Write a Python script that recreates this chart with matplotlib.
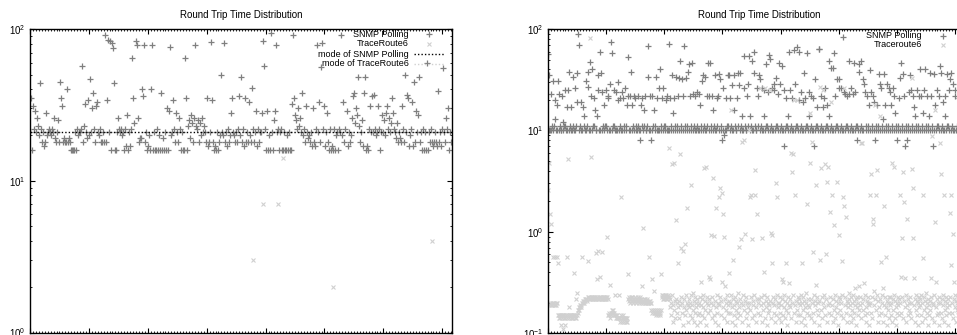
import numpy as np
import matplotlib
matplotlib.use('Agg')
import matplotlib.pyplot as plt
from matplotlib.ticker import MultipleLocator, LogLocator, NullFormatter

plt.rcParams['font.family'] = ['Liberation Sans', 'DejaVu Sans']
plt.rcParams['mathtext.default'] = 'regular'

# ---- data (RTT in ms), samples evenly spaced over the plotted time window ----
left_span_h = 7.165
right_span_h = 7.26

left_snmp = [
    21,35,16,31,22,29,21,26,23,20, 44,22,18,21,17,18,28,20,21,22,
    21,20,22,21,26,19,18,21,25,18, 45,35,31,18,19,18,18,40,18,19,
    18,16,16,16,16,21,16,22,20,21, 21,22,57,18,23,32,21,19,34,20,
    47,21,30,38,22,18,31,33,21,20, 22,18,18,21,18,91,18,34,85,21,
    83,16,81,75,44,16,16,21,26,22, 21,22,20,21,16,22,17,27,16,21,
    17,22,64,35,24,83,79,26,18,19, 19,40,36,79,18,21,16,17,20,16,
    40,78,16,21,16,16,22,16,20,16, 38,16,19,16,21,16,30,16,29,76,
    20,21,34,22,18,28,21,18,26,22, 16,21,16,16,64,35,16,23,25,19,
    27,24,18,26,79,23,22,25,18,24, 20,26,21,23,21,18,35,17,18,21,
    82,34,18,16,17,16,21,16,18,20, 50,21,20,81,18,21,17,22,18,20,
    28,35,21,20,18,21,18,22,36,20, 48,18,22,17,35,18,21,18,33,20,
    18,41,22,18,21,29,17,22,18,21, 21,28,83,57,22,16,29,16,20,16,
    94,21,16,25,29,79,21,22,16,21, 22,16,16,21,16,16,20,16,21,16,
    16,32,91,35,27,25,22,30,23,26, 21,38,20,22,18,31,21,19,20,18,
    21,17,30,18,17,22,79,21,33,18, 56,81,22,31,17,21,28,18,16,22,
    16,17,16,22,16,20,21,16,22,21, 91,20,33,18,22,29,17,21,18,20,
    26,36,38,24,30,27,48,23,18,21, 25,17,38,48,16,17,16,22,31,21,
    36,21,37,22,20,21,31,22,16,21, 27,21,25,20,28,31,22,26,21,24,
    35,28,22,21,19,24,18,21,19,18, 31,22,18,50,21,37,35,17,20,22,
    33,17,45,18,29,21,27,48,18,21, 16,22,16,21,16,60,16,21,18,22,
    18,17,18,21,18,17,39,18,21,17, 22,55,21,18,26,22,30,16,21,18,
]

left_trace = [
    0.19,0.2,0.21,0.2,0.18,0.2,0.22,0.19,0.2,0.21,
    0.2,0.19,0.2,0.18,0.21,0.2,0.2,0.19,0.22,0.2,
    0.21,0.2,0.19,0.2,0.2,0.18,0.21,0.2,0.19,0.2,
    0.2,0.22,0.2,0.19,0.21,0.2,0.18,0.2,0.2,0.19,
    0.21,0.2,0.2,0.19,0.2,3.0,0.21,7.0,0.2,0.19,
    7.0,14.1,0.2,0.21,0.19,0.2,0.2,0.18,0.21,0.2,
    0.19,2.0,0.2,0.21,0.2,0.19,0.2,0.22,0.2,0.19,
    0.21,0.2,0.2,0.18,0.2,0.21,0.19,0.2,0.2,0.21,
    0.2,4.0,0.19,0.2,0.21,
]

left_snmp_mode = 21
left_trace_mode = 0.2

right_snmp = [
    57,10,35,10,10,23,11,31,10,11,20,13,10,10,18,  31,10,23,11,10,10,22,12,10,11,25,11,10,10,17,
    25,10,38,11,10,17,10,34,11,10,26,10,11,19,37,  89,10,69,11,10,19,10,17,14,11,10,10,31,11,38,
    27,10,47,10,22,10,40,11,21,11,16,10,10,14,25,  35,10,59,10,37,10,24,11,18,10,11,25,11,10,22,
    21,10,29,10,74,10,58,11,25,11,10,24,10,10,20,  30,10,21,11,10,24,10,21,11,10,26,10,11,18,22,
    53,10,22,10,38,10,18,11,22,10,21,11,10,10,11,  22,10,8,10,18,11,21,10,11,16,22,10,10,11,34,
    68,10,22,10,8,10,22,11,16,10,11,34,21,10,10,   26,10,40,11,10,21,10,26,11,10,11,20,22,10,10,
    71,10,21,11,10,35,15,10,21,11,10,34,10,11,22,  33,10,48,11,10,32,10,22,68,11,10,33,10,11,38,
    45,10,22,11,10,46,10,23,11,10,22,10,24,11,10,  23,10,18,11,10,31,10,35,11,10,34,10,11,22,46,
    22,10,46,11,10,22,10,16,11,10,35,10,11,21,22,  36,10,32,11,10,8,10,26,9,10,21,10,11,35,11,
    35,10,21,11,10,28,10,35,16,11,10,10,21,11,37,  28,10,37,11,10,14,10,54,26,11,10,10,22,11,29,
    54,10,14,11,10,48,10,60,37,11,10,10,26,11,22,  35,10,32,11,10,26,10,25,14,10,11,45,11,10,24,
    55,10,51,11,10,26,10,29,25,10,11,33,11,10,23,  46,10,29,11,10,43,10,25,7,10,11,21,11,10,14,
    60,10,25,11,10,21,10,62,29,10,11,67,11,10,20,  60,10,24,11,10,19,10,37,21,10,11,58,11,10,14,
    24,10,22,11,10,21,10,7,32,10,11,17,11,10,64,   63,10,22,11,10,17,10,21,26,10,11,18,11,10,14,
    48,10,41,11,10,41,10,58,22,10,11,32,11,10,26,  32,10,26,11,10,83,10,24,23,10,11,22,11,10,23,
    48,10,26,11,10,23,10,46,24,10,11,8,11,10,38,   45,10,48,11,10,32,10,29,24,10,11,22,11,10,18,
    39,10,24,11,10,22,10,19,8,10,11,18,11,10,36,   29,10,26,11,10,13,10,36,18,10,11,29,11,10,26,
    24,10,18,11,10,26,10,22,15,10,11,8,11,10,21,   33,10,46,11,10,36,10,22,7,10,11,8,11,10,24,
    35,10,25,11,10,22,10,17,14,10,11,25,11,10,22,  40,10,22,11,10,15,10,25,40,10,11,22,11,10,14,
    37,10,22,11,10,7,10,36,18,10,11,25,11,10,22,   43,10,37,11,10,19,10,22,14,10,11,36,11,10,25,
    32,10,37,11,10,29,10,22,25,10,10,11,11,10,21,  30,10,22,11,10,18,10,24,11,10,11,28,11,10,22,
]

right_trace = [
    2.6,0.19,4.8,1.5,0.2,0.19,1.2,0.2,0.19,0.56,0.2,0.19,0.2,0.56,0.19,0.2,0.19,0.56,0.2,0.49,
    0.15,0.14,0.15,0.15,0.14,0.15,0.12,0.15,0.14,0.11,0.15,0.14,0.15,0.12,0.14,0.15,0.15,0.56,0.14,5.2,
    0.15,0.14,0.18,0.15,0.15,0.14,0.15,0.14,0.15,0.15,0.14,0.39,0.15,0.14,0.15,0.22,0.14,0.15,0.25,0.16,
    0.17,0.18,0.17,0.18,0.19,0.18,0.19,0.2,0.56,0.2,0.21,0.2,0.21,0.22,0.21,0.22,0.22,0.21,0.22,0.23,
    0.52,0.22,0.23,82,0.22,5.5,0.23,0.22,0.23,0.22,0.23,0.22,0.23,0.22,0.23,0.22,0.62,0.23,0.34,0.22,
    0.65,0.23,0.22,0.36,0.23,0.22,0.23,0.22,0.63,0.23,0.22,0.23,0.22,0.23,0.22,0.23,0.22,0.23,0.88,0.22,
    0.15,0.16,0.15,0.3,0.14,0.15,0.16,0.17,0.16,0.17,0.16,0.15,0.16,0.15,0.24,0.14,0.15,0.14,0.15,0.14,
    0.14,0.24,0.14,0.13,0.14,0.15,2.2,0.14,0.13,0.14,0.15,0.14,0.13,0.14,0.14,0.13,0.14,0.13,0.14,0.38,
    0.22,0.23,0.21,0.22,0.2,0.23,0.22,0.21,0.23,0.22,0.2,0.21,0.22,0.23,0.21,0.22,0.2,0.22,0.21,0.23,
    0.21,0.22,0.2,0.23,0.21,0.22,0.2,0.29,0.21,0.2,1.1,0.22,0.21,0.2,0.22,0.21,0.2,0.22,0.21,0.2,
    0.2,0.21,0.56,0.2,0.21,0.2,0.17,0.34,0.16,0.17,0.26,0.16,0.17,0.16,0.15,0.16,0.17,0.16,0.15,0.16,
    0.16,0.17,0.15,0.16,0.17,0.38,0.24,0.23,0.22,0.24,0.23,0.22,0.24,0.23,0.22,0.24,0.23,0.22,0.23,0.24,
    0.23,6.7,0.18,0.22,0.15,0.2,4.7,0.24,0.13,0.19,4.8,0.17,0.21,0.14,1.3,0.22,0.16,0.2,0.49,0.18,
    0.21,0.14,5.8,0.19,0.23,0.7,0.16,0.2,0.65,0.12,0.22,0.18,0.76,0.15,0.24,0.17,0.2,1.7,0.13,0.19,
    0.18,0.22,0.15,0.2,2.9,0.24,0.14,0.19,0.25,0.17,0.21,0.13,0.23,0.16,0.2,0.18,0.12,0.22,0.15,0.19,
    0.2,0.16,0.23,0.13,0.19,0.32,0.22,0.15,0.18,0.24,0.14,4.3,0.21,0.17,4.4,0.12,0.2,0.23,0.16,0.19,
    0.22,0.36,0.17,0.34,0.2,0.94,0.14,0.23,3.4,0.19,0.92,0.15,0.21,0.13,1.7,0.18,0.24,0.16,0.2,0.12,
    0.19,2.2,0.23,2.7,0.15,0.21,2.4,0.32,0.18,1.5,0.9,0.14,0.22,0.29,0.17,0.2,0.13,0.24,0.16,0.19,
    0.21,0.39,0.16,0.2,16,0.24,0.13,0.18,0.22,0.53,0.15,0.19,0.23,0.12,0.17,0.21,0.14,0.2,0.25,0.16,
    0.18,0.71,0.22,0.15,0.2,0.85,7.7,0.13,0.24,0.19,0.17,8,0.21,0.96,0.14,0.23,0.16,0.2,0.12,0.18,
    0.2,10,2.2,0.17,2.3,0.23,0.14,0.85,0.19,0.21,0.15,0.24,2.3,4.1,0.18,0.13,1.5,0.22,0.16,0.2,
    0.22,0.15,26,0.19,0.23,0.13,0.87,0.2,0.17,0.24,0.4,0.14,26,0.21,0.18,0.12,0.23,0.16,0.2,0.19,
    0.17,0.21,25,0.98,0.14,0.49,0.94,0.2,0.23,0.16,0.19,0.13,0.22,0.15,3.0,2.2,0.24,0.18,0.2,0.14,
    0.2,0.23,0.16,0.19,0.13,0.34,0.22,0.15,0.32,0.18,0.24,0.14,0.21,0.17,0.49,0.12,0.2,0.23,0.16,0.19,
    0.31,0.18,0.22,6,0.14,0.2,3.9,5.9,0.24,20,0.16,2.3,0.19,0.13,0.21,20,0.17,0.23,0.15,0.2,
    0.22,0.15,0.19,0.24,0.13,0.2,0.49,0.17,0.23,0.14,0.21,0.18,0.12,0.2,0.25,0.16,1.9,0.19,0.22,0.15,
    0.18,4.8,15,0.22,0.14,7.7,0.2,0.63,0.16,0.24,0.13,0.19,0.21,2.9,0.3,0.17,0.23,0.15,0.2,0.12,
    0.21,27,0.53,0.17,4.3,0.23,0.14,25,0.2,0.18,0.24,4.7,0.15,0.6,0.22,3.1,0.13,4.4,0.19,0.16,
    0.2,0.23,1.56,0.15,19,0.19,2.3,0.22,0.13,0.17,1.16,0.24,0.14,0.21,0.18,3.1,0.16,0.2,0.12,0.23,
    0.93,0.17,0.22,0.15,0.2,0.24,0.52,2.2,0.14,26,1.8,0.19,0.23,1.4,0.16,0.21,0.13,0.18,0.2,0.25,
    0.22,0.15,0.19,0.23,0.13,0.2,0.17,0.24,0.14,0.21,0.16,0.28,0.19,0.12,0.22,0.18,0.23,0.15,0.2,0.17,
    0.29,0.19,0.23,7.5,0.14,0.2,7.5,0.17,0.22,0.31,0.15,0.24,0.18,0.13,0.21,0.16,0.2,0.23,0.12,0.19,
    0.2,2.3,0.16,3.7,0.23,0.14,1.35,1.2,0.26,0.19,18,0.22,2.3,0.17,4.1,0.24,0.13,0.21,0.18,0.15,
    0.22,14,0.16,0.5,0.2,0.24,0.13,0.28,0.19,1.8,0.23,0.15,0.56,0.18,0.21,0.12,0.2,0.17,0.23,0.14,
    0.19,0.23,0.15,0.2,4.8,0.13,0.22,0.17,0.24,4.4,0.14,0.21,0.18,0.12,0.2,0.16,0.23,0.19,0.15,0.22,
    0.2,2.3,0.16,0.36,0.23,0.87,3.9,0.14,0.21,1.95,0.18,0.35,0.24,0.13,1.35,0.19,0.22,0.15,0.2,0.17,
    0.23,0.16,0.2,0.14,33,4.2,2.7,0.87,0.35,0.19,0.22,0.13,0.24,0.17,0.21,0.15,0.2,0.12,0.18,0.23,
    0.19,0.22,0.15,0.24,0.13,0.2,2.3,0.55,0.17,0.23,0.14,0.21,0.18,0.25,0.16,0.2,0.12,0.22,0.19,0.15,
    0.21,0.17,0.35,0.23,8.9,0.14,0.2,0.19,0.24,0.13,16,1.25,0.32,0.18,0.22,0.15,0.2,0.16,0.23,0.12,
    0.2,7.5,0.16,3.7,0.22,0.14,0.19,0.24,2.3,0.13,0.21,0.17,0.23,0.15,0.2,0.18,0.12,0.22,0.16,0.19,
    0.23,1.55,2.3,0.47,0.16,0.2,0.96,0.14,0.32,0.22,0.18,0.24,0.13,0.21,0.17,0.2,0.15,0.23,0.19,0.12,
    0.21,0.17,0.24,0.14,0.2,0.9,0.18,0.23,0.13,0.19,0.22,0.16,0.2,0.25,0.15,0.18,0.22,0.13,0.2,0.17,
]

SNMP_COLOR = '#7f7f7f'
TRACE_COLOR = '#d0d0d0'
FS = 7
KEY_FS = 6.5


def times(values, span):
    return np.linspace(0, span, len(values), endpoint=False)


def snmp_points(ax, x, y):
    ax.plot(x, y, linestyle='none', marker='+', ms=5, mew=0.9, color=SNMP_COLOR)


def trace_points(ax, x, y):
    ax.plot(x, y, linestyle='none', marker='x', ms=3.4, mew=0.8, color=TRACE_COLOR)


def style(ax, span, ylim):
    ax.set_yscale('log')
    ax.set_xlim(0, span)
    ax.set_ylim(*ylim)
    ax.xaxis.set_major_locator(MultipleLocator(1))
    ax.xaxis.set_minor_locator(MultipleLocator(0.05))
    ax.yaxis.set_major_locator(LogLocator(base=10, numticks=10))
    ax.yaxis.set_minor_locator(LogLocator(base=10, subs=np.arange(2, 10), numticks=10))
    ax.yaxis.set_minor_formatter(NullFormatter())
    ax.tick_params(which='both', direction='in', top=True, right=True,
                   labelbottom=False, labelsize=FS, pad=3)
    ax.tick_params(which='major', length=3.5, width=0.8)
    ax.tick_params(which='minor', length=1.6, width=0.6)
    for s in ax.spines.values():
        s.set_linewidth(1.0)
    ax.set_title('Round Trip Time Distribution', fontsize=FS, pad=8)


def key_text(ax, x, y, label):
    ax.text(x, y, label, transform=ax.transAxes, ha='right', va='center', fontsize=KEY_FS)


fig = plt.figure(figsize=(9.57, 3.35), dpi=100)
ax1 = fig.add_axes([30 / 957, 2.5 / 335, 422 / 957, 303.5 / 335])
ax2 = fig.add_axes([548 / 957, 1.7 / 335, 422 / 957, 304.3 / 335])

# left panel
snmp_points(ax1, times(left_snmp, left_span_h), left_snmp)
trace_points(ax1, times(left_trace, left_span_h), left_trace)
ax1.axhline(left_snmp_mode, color='black', lw=1.0, ls=(0, (1, 1.5)))
ax1.axhline(left_trace_mode, color=TRACE_COLOR, lw=1.0, ls=(0, (1, 1.5)))
style(ax1, left_span_h, (1, 100))

tx, mx = 0.898, 0.945
rows = [0.9819, 0.9522, 0.9160, 0.8863]
key_text(ax1, tx, rows[0], 'SNMP Polling')
ax1.plot([mx], [rows[0]], transform=ax1.transAxes, marker='+', ms=5, mew=0.9,
         color=SNMP_COLOR, clip_on=False)
key_text(ax1, tx, rows[1], 'TraceRoute6')
ax1.plot([mx], [rows[1]], transform=ax1.transAxes, marker='x', ms=3.4, mew=0.8,
         color=TRACE_COLOR, clip_on=False)
key_text(ax1, tx, rows[2], 'mode of SNMP Polling')
ax1.plot([0.91, 0.98], [rows[2], rows[2]], transform=ax1.transAxes, color='black',
         lw=1.0, ls=(0, (1, 1.5)))
key_text(ax1, tx, rows[3], 'mode of TraceRoute6')
ax1.plot([0.91, 0.98], [rows[3], rows[3]], transform=ax1.transAxes, color=TRACE_COLOR,
         lw=1.0, ls=(0, (1, 1.5)))
ax1.set_xlim(0, left_span_h)
ax1.set_ylim(1, 100)

# right panel
snmp_points(ax2, times(right_snmp, right_span_h), right_snmp)
trace_points(ax2, times(right_trace, right_span_h), right_trace)
style(ax2, right_span_h, (0.1, 100))

tx2, mx2 = 0.886, 0.936
rows2 = [0.978, 0.9484]
key_text(ax2, tx2, rows2[0], 'SNMP Polling')
ax2.plot([mx2], [rows2[0]], transform=ax2.transAxes, marker='+', ms=5, mew=0.9,
         color=SNMP_COLOR, clip_on=False)
key_text(ax2, tx2, rows2[1], 'Traceroute6')
ax2.plot([mx2], [rows2[1]], transform=ax2.transAxes, marker='x', ms=3.4, mew=0.8,
         color=TRACE_COLOR, clip_on=False)
ax2.set_xlim(0, right_span_h)
ax2.set_ylim(0.1, 100)

fig.savefig('out.png', dpi=100)
